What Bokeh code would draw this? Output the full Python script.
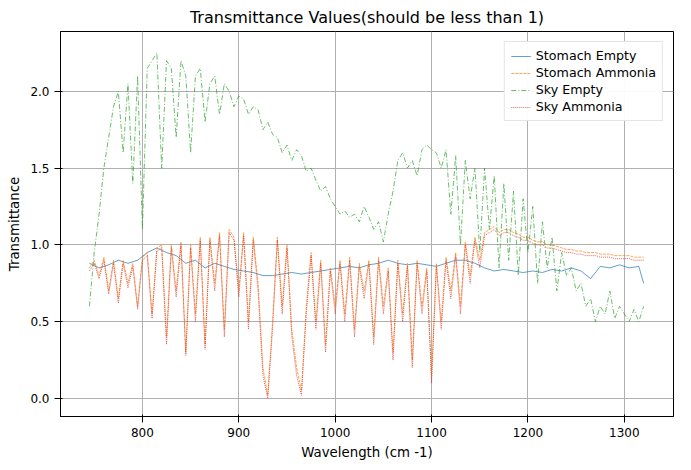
from bokeh.plotting import figure
from bokeh.models import Range1d, Legend, LegendItem, CustomJSTickFormatter
from bokeh.embed import file_html
from bokeh.resources import INLINE

x5 = list(range(745, 1321, 5))
sky_empty = [0.6,0.95,1.2,1.5,1.7,1.9,2.0,1.6,2.05,1.4,2.1,1.1,2.15,2.2,2.25,1.5,2.2,2.15,1.7,2.2,2.1,1.6,2.1,2.15,1.8,2.05,2.1,1.85,2.05,2.0,1.9,1.97,1.95,1.85,1.9,1.88,1.75,1.8,1.72,1.7,1.6,1.65,1.55,1.62,1.58,1.48,1.5,1.42,1.35,1.38,1.3,1.25,1.2,1.22,1.18,1.2,1.15,1.25,1.18,1.1,1.15,1.02,1.2,1.35,1.55,1.6,1.5,1.55,1.45,1.62,1.65,1.62,1.6,1.5,1.62,1.2,1.58,1.0,1.55,1.3,1.5,0.95,1.5,1.1,1.45,0.85,1.4,0.9,1.35,0.8,1.3,0.95,1.25,0.75,1.15,0.85,1.05,0.7,0.95,0.8,0.85,0.7,0.75,0.6,0.65,0.5,0.6,0.55,0.7,0.52,0.6,0.55,0.5,0.58,0.5,0.6]
stomach_ammonia = [0.85,0.9,0.8,0.92,0.7,0.9,0.65,0.9,0.75,0.88,0.6,0.92,0.95,0.55,0.98,1.0,0.4,1.0,0.7,1.02,0.3,1.0,0.55,1.05,0.35,1.05,0.75,1.08,0.45,1.1,1.05,0.7,1.08,0.5,1.05,0.75,0.2,0.02,0.5,1.05,0.6,1.0,0.45,0.2,0.05,0.6,0.95,0.5,0.9,0.35,0.85,0.6,0.9,0.55,0.92,0.45,0.88,0.7,0.9,0.4,0.92,0.6,0.85,0.3,0.9,0.55,0.88,0.25,0.9,0.6,0.85,0.15,0.88,0.5,0.92,0.7,0.95,0.6,1.02,0.8,1.05,0.9,1.08,1.1,1.12,1.08,1.1,1.1,1.08,1.07,1.05,1.05,1.03,1.02,1.02,1.0,1.0,0.99,0.98,0.97,0.97,0.96,0.96,0.95,0.95,0.95,0.94,0.94,0.94,0.93,0.93,0.93,0.93,0.92,0.92,0.92]
sky_ammonia = [0.83,0.88,0.78,0.9,0.68,0.88,0.62,0.88,0.72,0.86,0.58,0.9,0.93,0.52,0.96,0.98,0.35,0.98,0.66,1.0,0.28,0.98,0.5,1.03,0.32,1.03,0.7,1.06,0.4,1.08,1.03,0.66,1.06,0.45,1.03,0.7,0.15,0.0,0.45,1.03,0.55,0.98,0.4,0.15,0.02,0.55,0.93,0.45,0.88,0.3,0.83,0.55,0.88,0.5,0.9,0.4,0.86,0.65,0.88,0.35,0.9,0.55,0.83,0.25,0.88,0.5,0.86,0.2,0.88,0.55,0.83,0.1,0.86,0.45,0.9,0.65,0.93,0.55,1.0,0.75,1.03,0.85,1.06,1.08,1.1,1.06,1.08,1.08,1.06,1.05,1.03,1.03,1.01,1.0,1.0,0.98,0.98,0.97,0.96,0.95,0.95,0.94,0.94,0.93,0.93,0.93,0.92,0.92,0.92,0.91,0.91,0.91,0.91,0.9,0.9,0.9]
x10 = list(range(745, 1316, 10)) + [1320]
stomach_empty = [0.88,0.85,0.87,0.9,0.88,0.9,0.95,0.98,0.95,0.93,0.88,0.9,0.85,0.88,0.86,0.84,0.83,0.82,0.8,0.8,0.81,0.82,0.81,0.82,0.83,0.84,0.85,0.86,0.85,0.87,0.88,0.9,0.88,0.87,0.88,0.87,0.86,0.88,0.9,0.9,0.88,0.85,0.83,0.84,0.83,0.82,0.83,0.82,0.84,0.83,0.85,0.83,0.78,0.86,0.85,0.87,0.85,0.86,0.75]

p = figure(width=683, height=462, output_backend="svg", toolbar_location=None,
           title="Transmittance Values(should be less than 1)",
           x_range=Range1d(715, 1351), y_range=Range1d(-0.118, 2.39))
p.title.align = "center"
p.title.text_font_size = "12pt"
p.title.text_font_style = "normal"
p.title.text_font = "DejaVu Sans"
p.title.text_color = "black"
p.xaxis.axis_label = "Wavelength (cm -1)"
p.yaxis.axis_label = "Transmittance"
for ax in (p.xaxis, p.yaxis):
    ax.axis_label_text_font_style = "normal"
    ax.axis_label_text_font = "DejaVu Sans"
    ax.axis_label_text_font_size = "10pt"
    ax.axis_label_text_color = "black"
    ax.major_label_text_font = "DejaVu Sans"
    ax.major_label_text_font_size = "9pt"
    ax.major_label_text_color = "black"
    ax.minor_tick_line_color = None
    ax.major_tick_line_color = "black"
    ax.axis_line_color = "black"
p.xaxis.ticker = [800, 900, 1000, 1100, 1200, 1300]
p.yaxis.ticker = [0.0, 0.5, 1.0, 1.5, 2.0]
p.yaxis.formatter = CustomJSTickFormatter(code="return tick.toFixed(1);")
p.grid.grid_line_color = "#b0b0b0"
p.grid.grid_line_alpha = 1.0
p.outline_line_color = "black"
p.min_border_left = 60
p.min_border_right = 10

r1 = p.line(x10, stomach_empty, color="#1f77b4", line_width=0.7)
r2 = p.line(x5, stomach_ammonia, color="#ff7f0e", line_width=0.7, line_dash="3 1")
r3 = p.line(x5, sky_empty, color="#2ca02c", line_width=0.7, line_dash="5 2 1 2")
r4 = p.line(x5, sky_ammonia, color="#d62728", line_width=0.7, line_dash="1 1")
leg = Legend(items=[LegendItem(label="Stomach Empty", renderers=[r1]),
                    LegendItem(label="Stomach Ammonia", renderers=[r2]),
                    LegendItem(label="Sky Empty", renderers=[r3]),
                    LegendItem(label="Sky Ammonia", renderers=[r4])],
             location="top_right", label_text_font="DejaVu Sans",
             label_text_font_size="9.5pt", label_text_color="black", spacing=2, padding=6,
             label_height=14, glyph_height=14,
             border_line_color="#cccccc")
p.add_layout(leg)

open("out.html", "w").write(file_html(p, INLINE))
